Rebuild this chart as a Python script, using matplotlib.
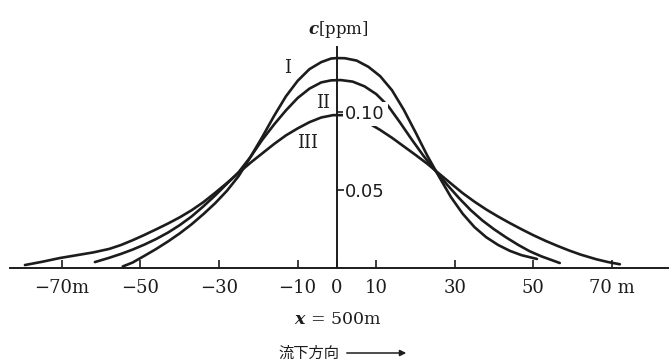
import matplotlib
matplotlib.use("Agg")
import matplotlib.pyplot as plt

plt.rcParams["mathtext.fontset"] = "dejavuserif"

# Lateral distance from the plume axis [m] and concentration c [ppm]
# for the three dispersion cases at x = 500 m.
x_I = [-54.5, -52, -49, -46, -43, -40, -37, -34, -31, -28, -25, -22, -19, -16,
       -13, -10, -7, -4, -1.5, 0, 2, 5, 8, 11, 14, 17, 20, 23, 26, 29, 32, 35,
       38, 41, 44, 47, 50.9]
c_I = [0.0010, 0.0035, 0.0078, 0.0122, 0.0170, 0.0222, 0.0280, 0.0345, 0.0415,
       0.0495, 0.0590, 0.0712, 0.0840, 0.0975, 0.1100, 0.1200, 0.1275, 0.1320,
       0.1343, 0.1346, 0.1345, 0.1330, 0.1290, 0.1230, 0.1140, 0.1015, 0.0870,
       0.0720, 0.0585, 0.0455, 0.0348, 0.0262, 0.0197, 0.0148, 0.0110, 0.0082,
       0.0058]

x_II = [-61.6, -58, -55, -52, -49, -46, -43, -40, -37, -34, -31, -28, -25, -22,
        -19, -16, -13, -10, -7, -4, -1.5, 1, 4, 7, 10, 13, 16, 19, 22, 25, 28,
        31, 34, 37, 40, 43, 46, 49, 52, 56.7]
c_II = [0.0038, 0.0065, 0.0090, 0.0118, 0.0150, 0.0186, 0.0227, 0.0275, 0.0330,
        0.0395, 0.0465, 0.0540, 0.0615, 0.0712, 0.0822, 0.0920, 0.1010, 0.1090,
        0.1150, 0.1190, 0.1203, 0.1205, 0.1195, 0.1165, 0.1115, 0.1040, 0.0935,
        0.0825, 0.0720, 0.0625, 0.0535, 0.0450, 0.0372, 0.0305, 0.0248, 0.0197,
        0.0150, 0.0108, 0.0075, 0.0032]

x_III = [-79.4, -75, -70.5, -66, -62, -58, -55, -52, -49, -46, -43, -40, -37,
         -34, -31, -28, -25, -22, -19, -16, -13, -10, -7, -4, -1, 2, 5, 8, 11,
         14, 17, 20, 23, 26, 29, 32, 35, 38, 41, 44, 47, 50, 53, 56, 59, 62, 66,
         69, 72]
c_III = [0.0019, 0.0040, 0.0064, 0.0083, 0.0100, 0.0122, 0.0147, 0.0178, 0.0212,
         0.0248, 0.0285, 0.0325, 0.0370, 0.0422, 0.0482, 0.0545, 0.0610, 0.0675,
         0.0735, 0.0795, 0.0850, 0.0895, 0.0935, 0.0965, 0.0980, 0.0980, 0.0960,
         0.0930, 0.0885, 0.0835, 0.0780, 0.0725, 0.0668, 0.0605, 0.0542, 0.0480,
         0.0425, 0.0375, 0.0330, 0.0288, 0.0248, 0.0210, 0.0175, 0.0143, 0.0113,
         0.0086, 0.0056, 0.0038, 0.0024]

x_ticks = [-70, -50, -30, -10, 0, 10, 30, 50, 70]
x_tick_labels = ["\u221270m", "\u221250", "\u221230", "\u221210", "0", "10", "30", "50", "70 m"]
c_ticks = [0.05, 0.10]
c_tick_labels = ["0.05", "0.10"]

ink = "#1c1c1c"
serif = ["DejaVu Serif"]

fig = plt.figure(figsize=(6.69, 3.63), dpi=100)
W, H = 669, 363
ax = fig.add_axes([10 / W, 1 - 268 / H, 659 / W, (268 - 47) / H])
ax.set_xlim(-83.2, 84.5)
ax.set_ylim(0, 0.1417)
ax.set_axisbelow(False)

for xs, cs in ((x_I, c_I), (x_II, c_II), (x_III, c_III)):
    ax.plot(xs, cs, color=ink, lw=1.9, solid_capstyle="round",
            solid_joinstyle="round", zorder=2)

# axes: horizontal baseline, vertical axis through x = 0
ax.spines["top"].set_visible(False)
ax.spines["left"].set_visible(False)
ax.spines["right"].set_position(("data", 0))
for s in ("right", "bottom"):
    ax.spines[s].set_linewidth(1.4)
    ax.spines[s].set_color(ink)

ax.set_xticks(x_ticks)
ax.set_xticklabels(x_tick_labels, family=serif, fontsize=13)
ax.tick_params(axis="x", direction="in", length=6, width=1.2, pad=8,
               colors=ink)

ax.yaxis.tick_right()
ax.set_yticks(c_ticks)
ax.set_yticklabels(c_tick_labels, family="DejaVu Sans", fontsize=13)
ax.tick_params(axis="y", direction="out", length=5, width=1.2, pad=1,
               colors=ink)
ax.get_yticklabels()[1].set_bbox(dict(facecolor="white", edgecolor="none", pad=2))

# curve labels
ax.text(-12.6, 0.1282, "I", family=serif, fontsize=13, ha="center", va="center", color=ink)
ax.text(-3.6, 0.1058, "II", family=serif, fontsize=13, ha="center", va="center", color=ink)
ax.text(-7.4, 0.0801, "III", family=serif, fontsize=13, ha="center", va="center", color=ink)

# axis titles
fig.text(338 / W, 1 - 30 / H, r"$\boldsymbol{c}$" + "[ppm]",
         family=serif, fontsize=12, ha="center", va="center", color=ink)
fig.text(338 / W, 1 - 320 / H, r"$\boldsymbol{x}$" + " = 500m",
         family=serif, fontsize=12.5, ha="center", va="center", color=ink)
fig.text(309 / W, 1 - 353 / H, "流下方向", family=["Noto Sans CJK JP"],
         fontsize=11, ha="center", va="center", color=ink)
fig.add_artist(matplotlib.patches.FancyArrowPatch(
    (344 / W, 1 - 353 / H), (409 / W, 1 - 353 / H), transform=fig.transFigure,
    arrowstyle="-|>", mutation_scale=9, lw=1.1, color=ink))

fig.savefig("out.png", dpi=100, facecolor="white")
